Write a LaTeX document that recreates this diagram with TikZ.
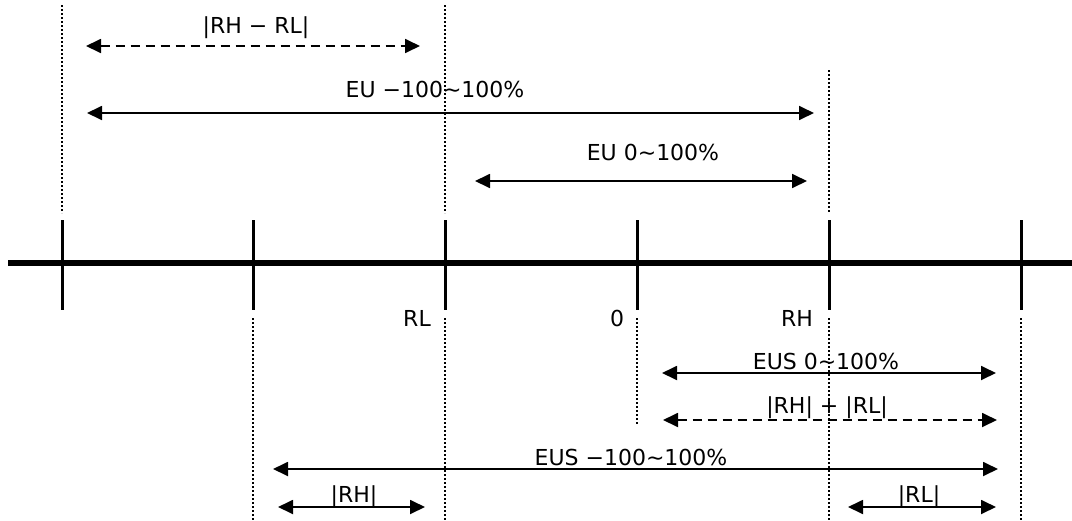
\documentclass[tikz,border=0pt]{standalone}
\usepackage{fontspec}
\setmainfont{DejaVu Sans}
\usetikzlibrary{arrows.meta}
\tikzset{
  axisline/.style={line width=5.5pt},
  tickline/.style={line width=3pt},
  guide/.style={line width=2.3pt, dash pattern=on 2.2pt off 1.8pt},
  dim/.style={line width=1.8pt, {Triangle[length=15pt,width=14pt]}-{Triangle[length=15pt,width=14pt]}},
  dimdash/.style={dim, dash pattern=on 9pt off 6pt},
  lbl/.style={anchor=base, inner sep=0pt, font=\fontsize{22pt}{24pt}\selectfont}
}
\begin{document}
\begin{tikzpicture}[x=1pt,y=-1pt]
\useasboundingbox (0,0) rectangle (1072,520);
% axis
\coordinate (axL) at (8,263);
\coordinate (axR) at (1072,263);
\draw[axisline] (axL) -- (axR);
% ticks
\foreach \n/\x in {t1/62,t2/253,t3/445,t4/637,t5/829,t6/1021}{
  \coordinate (\n top) at (\x,220);
  \coordinate (\n bot) at (\x,310);
  \draw[tickline] (\n top) -- (\n bot);
}
% top guides
\coordinate (g1a) at (62,5);   \coordinate (g1b) at (62,213);
\coordinate (g3a) at (445,5);  \coordinate (g3b) at (445,213);
\coordinate (g5a) at (829,70); \coordinate (g5b) at (829,213);
\draw[guide] (g1a) -- (g1b);
\draw[guide] (g3a) -- (g3b);
\draw[guide] (g5a) -- (g5b);
% bottom guides
\coordinate (b2a) at (253,318);  \coordinate (b2b) at (253,520);
\coordinate (b3a) at (445,318);  \coordinate (b3b) at (445,520);
\coordinate (b4a) at (637,318);  \coordinate (b4b) at (637,425);
\coordinate (b5a) at (829,318);  \coordinate (b5b) at (829,520);
\coordinate (b6a) at (1021,318); \coordinate (b6b) at (1021,520);
\foreach \g in {b2,b3,b4,b5,b6}{ \draw[guide] (\g a) -- (\g b); }
% axis labels
\node[lbl] (lRL) at (417,326) {RL};
\node[lbl] (l0)  at (617,326) {0};
\node[lbl] (lRH) at (797,326) {RH};
% dimension arrows
\coordinate (a1s) at (86,46);   \coordinate (a1e) at (420,46);
\coordinate (a2s) at (87,113);  \coordinate (a2e) at (814,113);
\coordinate (a3s) at (475,181); \coordinate (a3e) at (807,181);
\coordinate (a4s) at (662,373); \coordinate (a4e) at (996,373);
\coordinate (a5s) at (663,420); \coordinate (a5e) at (997,420);
\coordinate (a6s) at (273,469); \coordinate (a6e) at (998,469);
\coordinate (a7s) at (278,507); \coordinate (a7e) at (425,507);
\coordinate (a8s) at (848,507); \coordinate (a8e) at (996,507);
\draw[dimdash] (a1s) -- (a1e);
\draw[dim] (a2s) -- (a2e);
\draw[dim] (a3s) -- (a3e);
\draw[dim] (a4s) -- (a4e);
\draw[dimdash] (a5s) -- (a5e);
\draw[dim] (a6s) -- (a6e);
\draw[dim] (a7s) -- (a7e);
\draw[dim] (a8s) -- (a8e);
% dimension labels
\node[lbl] (d1) at (256,33)  {|RH − RL|};
\node[lbl] (d2) at (435,97)  {EU −100\~{}100\%};
\node[lbl] (d3) at (653,160) {EU 0\~{}100\%};
\node[lbl] (d4) at (826,369) {EUS 0\~{}100\%};
\node[lbl] (d5) at (827,413) {|RH| + |RL|};
\node[lbl] (d6) at (631,465) {EUS −100\~{}100\%};
\node[lbl] (d7) at (354,502) {|RH|};
\node[lbl] (d8) at (919,502) {|RL|};
\end{tikzpicture}
\end{document}
